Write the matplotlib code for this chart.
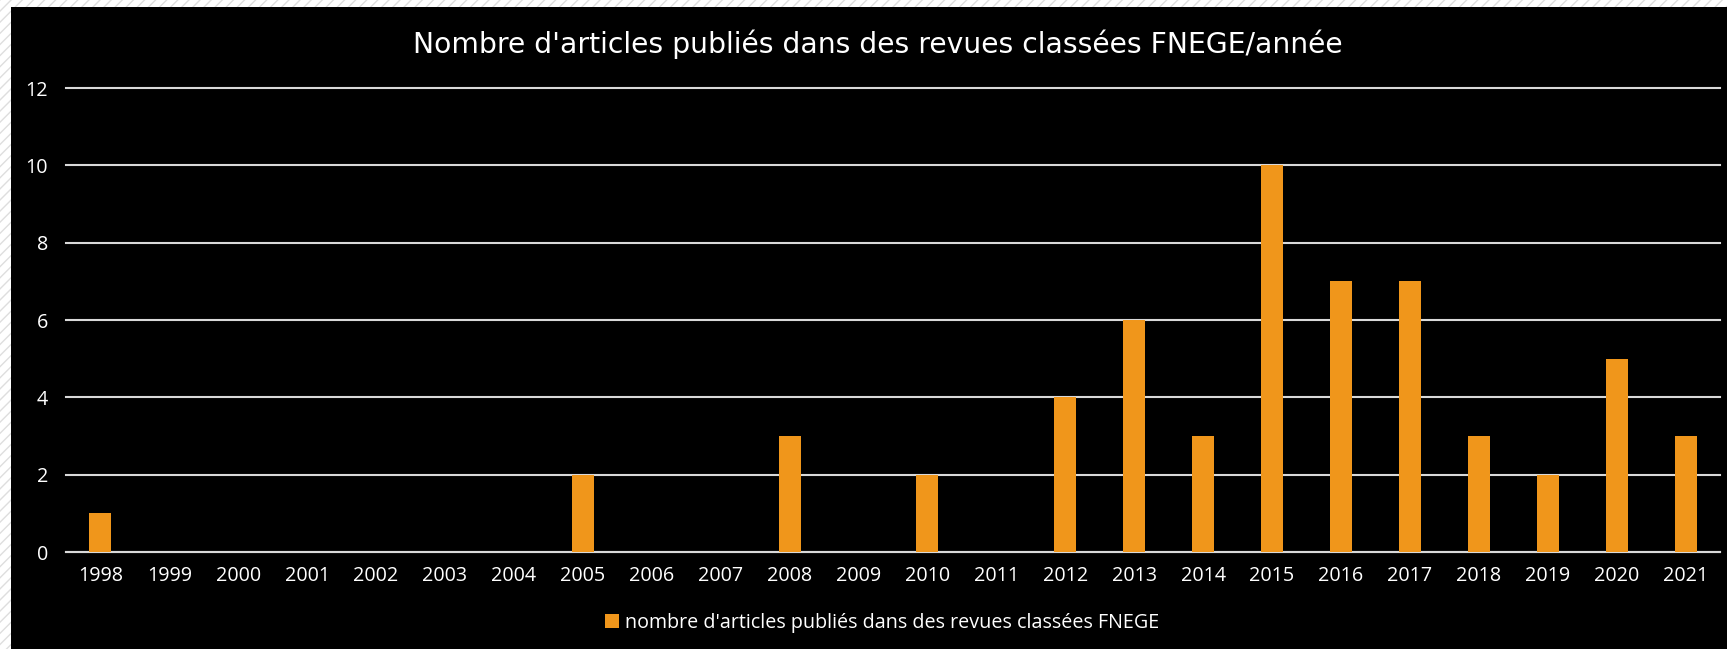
import numpy as np
import matplotlib.pyplot as plt
from matplotlib.patches import Rectangle

years = [str(y) for y in range(1998, 2022)]
articles = [1, 0, 0, 0, 0, 0, 0, 2, 0, 0, 3, 0, 2, 0, 4, 6, 3, 10, 7, 7, 3, 2, 5, 3]
yticks = [0, 2, 4, 6, 8, 10, 12]

title = "Nombre d'articles publiés dans des revues classées FNEGE/année"
series_label = "nombre d'articles publiés dans des revues classées FNEGE"

W, H = 1727, 649
fig = plt.figure(figsize=(W / 100, H / 100), dpi=100)
fig.patch.set_facecolor('white')

# hatched frame on left/top, then black chart area
frame = Rectangle((0, 0), 1, 1, transform=fig.transFigure, facecolor='white',
                  edgecolor='#dedede', hatch='///', linewidth=0, zorder=-10)
fig.patches.append(frame)
black = Rectangle((11 / W, 0), 1 - 11 / W, 1 - 7 / H, transform=fig.transFigure,
                  facecolor='black', edgecolor='none', zorder=-9)
fig.patches.append(black)

ax = fig.add_axes([66 / W, 1 - 552 / H, (1720 - 66) / W, (552 - 88) / H])
ax.set_facecolor('black')

x = np.arange(len(years))
ax.bar(x, articles, width=0.32, color='#F0961B', zorder=3,
       label=series_label)

ax.set_xlim(-0.5, len(years) - 0.5)
ax.set_ylim(0, 12)
ax.set_yticks(yticks)
ax.set_xticks(x)
ax.set_xticklabels(years)
ax.grid(axis='y', color='#d9d9d9', linewidth=1.5, zorder=1)
for gl in ax.get_ygridlines():
    gl.set_clip_on(False)
for s in ['top', 'right', 'left']:
    ax.spines[s].set_visible(False)
ax.spines['bottom'].set_color('#d9d9d9')
ax.spines['bottom'].set_linewidth(1.5)
ax.tick_params(length=0, colors='white', labelsize=14.2)
ax.tick_params(axis='y', pad=13)
ax.tick_params(axis='x', pad=10)
for lab in ax.get_xticklabels() + ax.get_yticklabels():
    lab.set_fontfamily('Open Sans')

fig.text(878 / W, 1 - 44 / H, title, color='white', fontsize=20.3,
         ha='center', va='center', family='DejaVu Sans')

leg = fig.legend(loc='center', bbox_to_anchor=(882 / W, 1 - 623 / H),
                 frameon=False, handlelength=0.7, handleheight=0.7,
                 handletextpad=0.3, prop={'family': 'Open Sans', 'size': 14.2})
for t in leg.get_texts():
    t.set_color('white')

fig.savefig('out.png', dpi=100)
